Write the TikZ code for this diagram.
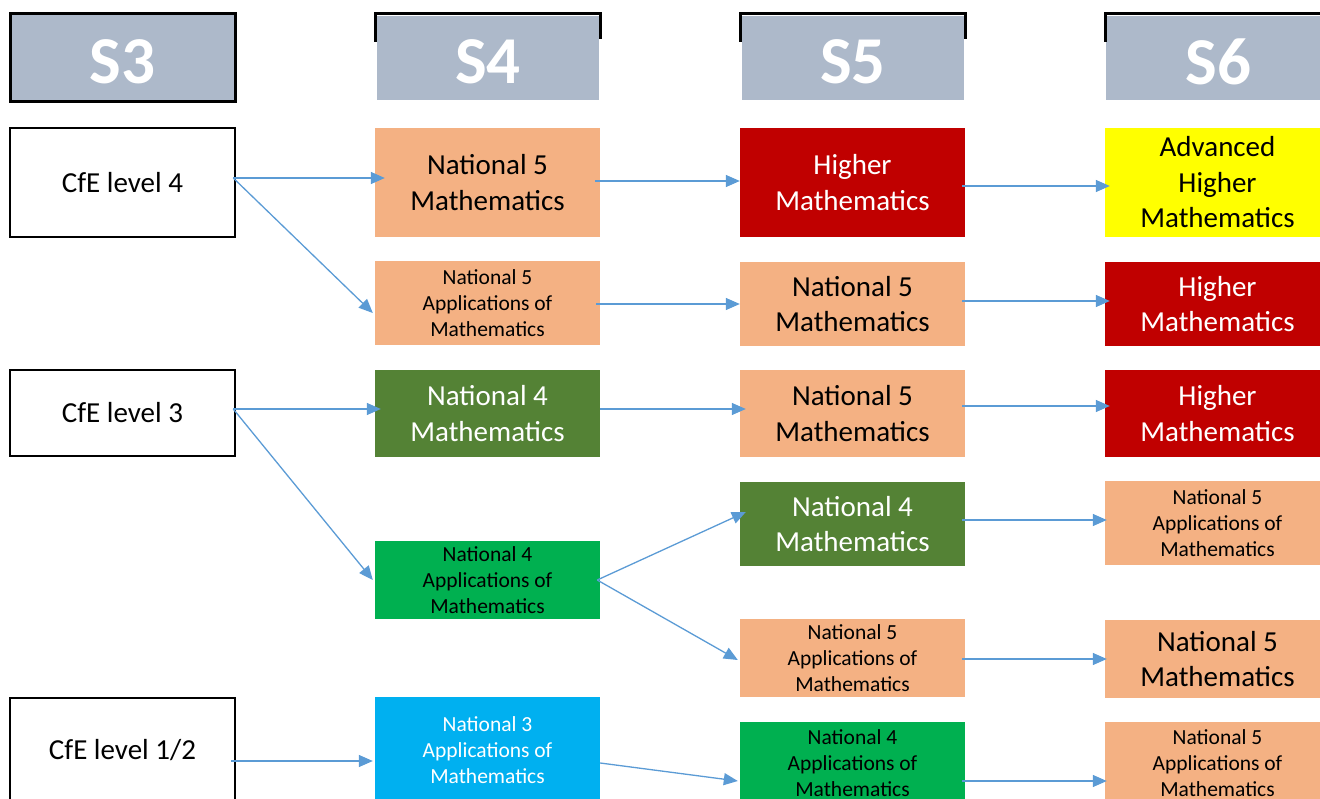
\documentclass[tikz,border=0pt]{standalone}
\usepackage{fontspec}
\setmainfont{Carlito}
\usetikzlibrary{arrows.meta}
\definecolor{hdr}{HTML}{ADB9CA}
\definecolor{salmon}{HTML}{F4B183}
\definecolor{hired}{HTML}{C00000}
\definecolor{dkgreen}{HTML}{548235}
\definecolor{brgreen}{HTML}{00B050}
\definecolor{cyanbox}{HTML}{00B0F0}
\definecolor{yel}{HTML}{FFFF00}
\definecolor{arrblue}{HTML}{5B9BD5}
\tikzset{
  box/.style={minimum width=225pt, inner sep=0pt, align=center},
  big/.style={font=\fontsize{29}{35.5}\selectfont},
  small/.style={font=\fontsize{21.5}{26}\selectfont},
  level/.style={box, big, draw=black, line width=2.5pt, fill=white},
  hdrbox/.style={fill=hdr, inner sep=0pt, text=white, font=\fontsize{67}{70}\bfseries\selectfont},
  arr/.style={draw=arrblue, line width=1.3pt, -{Triangle[length=14pt,width=12pt]}},
}
% year label, set a little below the box centre
\newcommand{\yr}[1]{\raisebox{-4pt}[\height][0pt]{#1}}
\begin{document}
\begin{tikzpicture}[x=1pt,y=-1pt]
\useasboundingbox (0,0) rectangle (1320,799);
\clip (0,0) rectangle (1320,799);

% year headers
\node[hdrbox, draw=black, line width=3pt, minimum width=225pt, minimum height=88pt] (s3) at (122.5,58) {\yr{S3}};
\node[hdrbox, minimum width=222pt, minimum height=84pt] (s4) at (488,58) {\yr{S4}};
\node[hdrbox, minimum width=222pt, minimum height=84pt] (s5) at (853,58) {\yr{S5}};
\node[hdrbox, minimum width=225pt, minimum height=84pt] (s6) at (1218.5,58) {\yr{S6}};
\draw[line width=3pt] (375,42) -- (375,14) -- (600,14) -- (600,39);
\draw[line width=3pt] (740,42) -- (740,14) -- (965,14) -- (965,39);
\draw[line width=3pt] (1105,42) -- (1105,14) -- (1330,14);

% S3 levels
\node[level, minimum height=109pt] (c4) at (122.5,182.5) {CfE level 4};
\node[level, minimum height=86pt] (c3) at (122.5,413) {CfE level 3};
\node[level, minimum height=104pt] (c12) at (122.5,750) {CfE level 1/2};

% S4 courses
\node[box, big, fill=salmon, minimum height=109pt] (n5m) at (487.5,182.5) {National 5\\Mathematics};
\node[box, small, fill=salmon, minimum height=84pt] (n5a) at (487.5,303) {National 5\\Applications of\\Mathematics};
\node[box, big, fill=dkgreen, text=white, minimum height=87pt] (n4m) at (487.5,413.5) {National 4\\Mathematics};
\node[box, small, fill=brgreen, minimum height=78pt] (n4a) at (487.5,580) {National 4\\Applications of\\Mathematics};
\node[box, small, fill=cyanbox, text=white, minimum height=106pt] (n3a) at (487.5,750) {National 3\\Applications of\\Mathematics};

% S5 courses
\node[box, big, fill=hired, text=white, minimum height=109pt] (hi) at (852.5,182.5) {Higher\\Mathematics};
\node[box, big, fill=salmon, minimum height=84pt] (fa) at (852.5,304) {National 5\\Mathematics};
\node[box, big, fill=salmon, minimum height=87pt] (fb) at (852.5,413.5) {National 5\\Mathematics};
\node[box, big, fill=dkgreen, text=white, minimum height=84pt] (fc) at (852.5,524) {National 4\\Mathematics};
\node[box, small, fill=salmon, minimum height=78pt] (fd) at (852.5,658) {National 5\\Applications of\\Mathematics};
\node[box, small, fill=brgreen, minimum height=82pt] (fe) at (852.5,763) {National 4\\Applications of\\Mathematics};

% S6 courses
\node[box, big, fill=yel, minimum height=109pt] (ah) at (1217.5,182.5) {Advanced\\Higher\\Mathematics};
\node[box, big, fill=hired, text=white, minimum height=84pt] (ga) at (1217.5,304) {Higher\\Mathematics};
\node[box, big, fill=hired, text=white, minimum height=87pt] (gb) at (1217.5,413.5) {Higher\\Mathematics};
\node[box, small, fill=salmon, minimum height=84pt] (gc) at (1217.5,523) {National 5\\Applications of\\Mathematics};
\node[box, big, fill=salmon, minimum height=78pt] (gd) at (1217.5,659) {National 5\\Mathematics};
\node[box, small, fill=salmon, minimum height=82pt] (ge) at (1217.5,763) {National 5\\Applications of\\Mathematics};

% progression arrows
\draw[arr] ([xshift=-3pt,yshift=4.5pt]c4.east) -- ([xshift=10pt,yshift=4.5pt]n5m.west);
\draw[arr] ([xshift=-3pt,yshift=4.5pt]c4.east) -- ([xshift=-2pt,yshift=-10pt]n5a.west);
\draw[arr] ([xshift=-5pt,yshift=1.5pt]n5m.east) -- ([yshift=1.5pt]hi.west);
\draw[arr] ([xshift=-3pt,yshift=-3.5pt]hi.east) -- ([xshift=5pt,yshift=-3.5pt]ah.west);
\draw[arr] ([xshift=-4pt,yshift=-1pt]n5a.east) -- (fa.west);
\draw[arr] ([xshift=-3pt,yshift=3pt]fa.east) -- ([xshift=5pt,yshift=3pt]ga.west);
\draw[arr] ([xshift=-3pt,yshift=4pt]c3.east) -- ([xshift=6pt,yshift=4.5pt]n4m.west);
\draw[arr] ([xshift=-3pt,yshift=4pt]c3.east) -- ([xshift=-2pt]n4a.west);
\draw[arr] ([yshift=4.5pt]n4m.east) -- ([xshift=6pt,yshift=4.5pt]fb.west);
\draw[arr] ([xshift=-3pt,yshift=7.5pt]fb.east) -- ([xshift=5pt,yshift=7.5pt]gb.west);
\draw[arr] ([xshift=-3pt]n4a.east) -- ([xshift=6pt,yshift=12pt]fc.west);
\draw[arr] ([xshift=-3pt]n4a.east) -- ([xshift=-2pt,yshift=-2pt]fd.west);
\draw[arr] ([xshift=-3pt,yshift=4pt]fc.east) -- ([xshift=2pt,yshift=3pt]gc.west);
\draw[arr] ([xshift=-3pt,yshift=-1pt]fd.east) -- ([xshift=2pt]gd.west);
\draw[arr] ([xshift=-5pt,yshift=-11pt]c12.east) -- ([xshift=-2pt,yshift=-11pt]n3a.west);
\draw[arr] ([yshift=-13pt]n3a.east) -- ([xshift=-2pt,yshift=-18pt]fe.west);
\draw[arr] ([xshift=-3pt,yshift=-18pt]fe.east) -- ([xshift=2pt,yshift=-18pt]ge.west);
\end{tikzpicture}
\end{document}
